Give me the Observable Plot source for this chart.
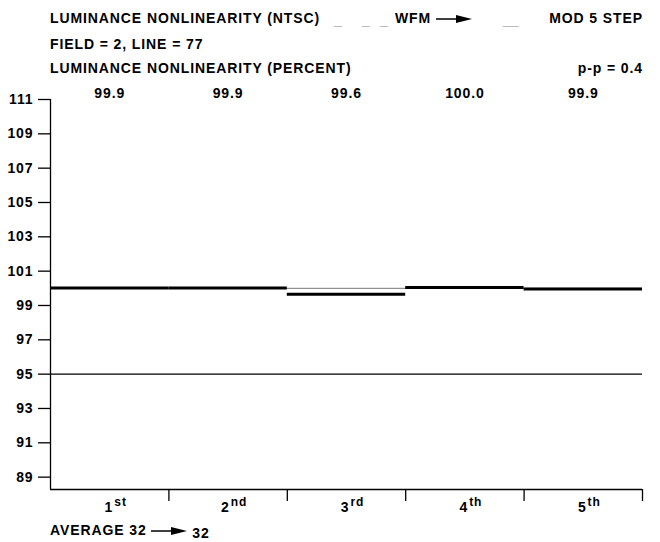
<!DOCTYPE html>
<html>
<head>
<meta charset="utf-8">
<script src="https://cdn.jsdelivr.net/npm/d3@7"></script>
<script src="https://cdn.jsdelivr.net/npm/@observablehq/plot@0.6"></script>
<style>
  html, body { margin: 0; padding: 0; background: #fff; }
  body { width: 660px; height: 542px; position: relative; overflow: hidden;
         font-family: "Liberation Sans", Arial, sans-serif; font-weight: bold; font-size: 14px;
         letter-spacing: 0.9px; color: #000; }
  .line { position: absolute; line-height: 16px; white-space: nowrap; }
  .dash { color: #bbb; font-weight: normal; letter-spacing: 0; }
  #chart { position: absolute; left: 0; top: 80px; }
  svg.arrow { vertical-align: middle; }
</style>
</head>
<body>
<script>
// ---- data ----
const titleLine1 = "LUMINANCE NONLINEARITY (NTSC)";
const modeLabel = "WFM";
const stepLabel = "MOD 5 STEP";
const fieldLine = "FIELD = 2, LINE = 77";
const unitLine = "LUMINANCE NONLINEARITY (PERCENT)";
const ppLabel = "p-p = 0.4";
const steps = ["1st", "2nd", "3rd", "4th", "5th"];
const stepReadouts = ["99.9", "99.9", "99.6", "100.0", "99.9"];
const stepLevels = [100.02, 100.02, 99.65, 100.05, 99.96];
const referenceLevel = 100;
const limitLevel = 95;
const yTicks = [89, 91, 93, 95, 97, 99, 101, 103, 105, 107, 109, 111];
const yMin = 88.28, yMax = 111;
const averageFrom = "AVERAGE 32", averageTo = "32";

// ---- header / footer (HTML text) ----
function arrowSvg(w) {
  return `<svg class="arrow" width="${w}" height="10" viewBox="0 0 ${w} 10"><line x1="0" y1="5" x2="${w-12}" y2="5" stroke="#000" stroke-width="1.5"/><polygon points="${w-16},1 ${w},5 ${w-16},9" fill="#000"/></svg>`;
}
const header = document.createElement("div");
header.innerHTML = `
  <div class="line" style="left:50px;top:10px">${titleLine1}</div>
  <div class="line dash" style="left:334px;top:11px">_</div>
  <div class="line dash" style="left:362px;top:11px">_</div>
  <div class="line dash" style="left:380px;top:11px">_</div>
  <div class="line" style="left:395px;top:10px">${modeLabel} ${arrowSvg(36)}</div>
  <div class="line dash" style="left:503px;top:11px">__</div>
  <div class="line" style="right:17px;top:10px">${stepLabel}</div>
  <div class="line" style="left:50px;top:36px">${fieldLine}</div>
  <div class="line" style="left:50px;top:60px">${unitLine}</div>
  <div class="line" style="right:17px;top:60px">${ppLabel}</div>
  <div class="line" style="left:50px;top:522px">${averageFrom} ${arrowSvg(36)} <span style="position:relative;top:3px">${averageTo}</span></div>
`;
document.body.appendChild(header);

// ---- chart ----
const rows = steps.map((s, i) => ({i, step: s, readout: stepReadouts[i], level: stepLevels[i]}));
const font = {fontFamily: "Liberation Sans, Arial, sans-serif", fontWeight: "bold", fontSize: 14};

const plot = Plot.plot({
  width: 660,
  height: 440,
  marginTop: 19,
  marginBottom: 31,
  marginLeft: 50,
  marginRight: 18,
  style: {fontFamily: "Liberation Sans, Arial, sans-serif", fontSize: "14px", fontWeight: "bold", letterSpacing: "0.9px", color: "#000", background: "transparent"},
  x: {domain: [0, steps.length], axis: null},
  y: {domain: [yMin, yMax], axis: null},
  marks: [
    Plot.ruleY([referenceLevel], {x1: 0, x2: steps.length, stroke: "#777", strokeWidth: 1}),
    Plot.ruleY([limitLevel], {x1: 0, x2: steps.length, stroke: "#000", strokeWidth: 1.2}),
    Plot.ruleY(rows, {y: "level", x1: d => d.i, x2: d => d.i + 1, stroke: "#000", strokeWidth: 3}),
    Plot.axisY({ticks: yTicks, label: null, tickSize: 12, tickPadding: 5, tickFormat: d => String(d), stroke: "#000", strokeWidth: 1.3, ...font}),
    Plot.ruleX([0], {stroke: "#000", strokeWidth: 1.3}),
    Plot.ruleY([yMin], {stroke: "#000", strokeWidth: 1.3}),
    Plot.axisX({ticks: d3.range(1, steps.length + 1), label: null, tickSize: 12, tickFormat: () => "", stroke: "#000", strokeWidth: 1.3}),
    Plot.text(rows, {x: d => d.i + 0.5, y: yMax, text: "readout", dy: -6, ...font}),
    Plot.text(rows, {x: d => d.i + 0.5, y: yMin, text: "step", dy: 18, dx: 6, ...font})
  ]
});
plot.id = "chart";
document.body.appendChild(plot);

// superscript ordinal suffixes
d3.select(plot).selectAll("text").each(function() {
  const t = d3.select(this);
  const s = t.text();
  const m = s.match(/^(\d+)(st|nd|rd|th)$/);
  if (!m) return;
  t.text(null);
  t.append("tspan").text(m[1]);
  t.append("tspan").attr("font-size", 12).attr("dx", 1).attr("dy", -6).text(m[2]);
});
</script>
</body>
</html>
